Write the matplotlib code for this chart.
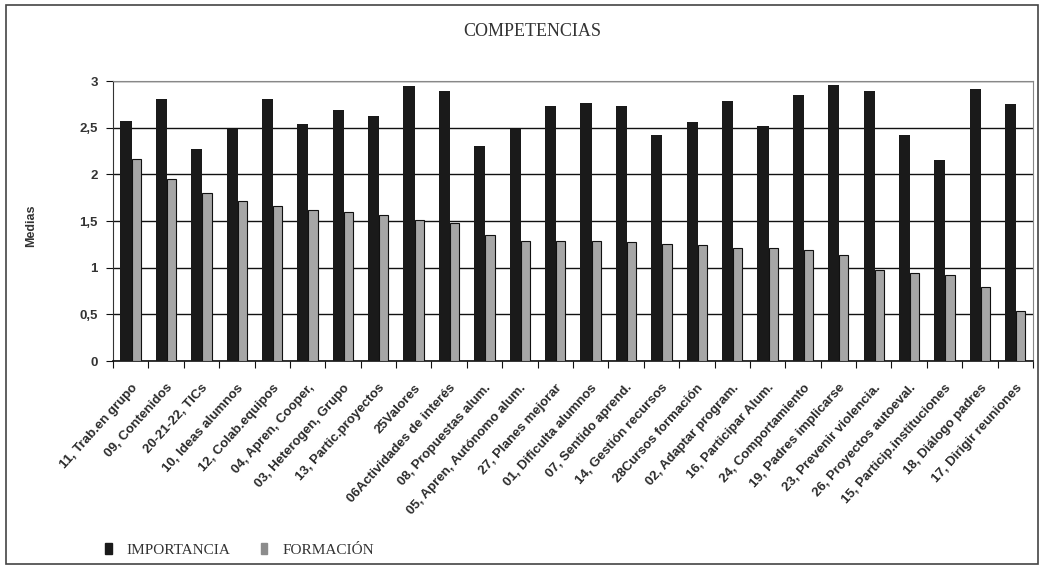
import numpy as np
import matplotlib.pyplot as plt
from matplotlib.patches import Patch, Rectangle

categorias = [
    '11, Trab.en grupo', '09, Contenidos', '20-21-22, TICs', '10, Ideas alumnos',
    '12, Colab.equipos', '04, Apren, Cooper,', '03, Heterogen, Grupo', '13, Partic.proyectos',
    '25Valores', '06Actividades de interés', '08, Propuestas alum.', '05, Apren, Autónomo alum.',
    '27, Planes mejorar', '01, Dificulta alumnos', '07, Sentido aprend.', '14, Gestión recursos',
    '28Cursos formación', '02, Adaptar program.', '16, Participar Alum.', '24, Comportamiento',
    '19, Padres implicarse', '23, Prevenir violencia.', '26, Proyectos autoeval.',
    '15, Particip.instituciones', '18, Diálogo padres', '17, Dirigir reuniones',
]
importancia = [2.57, 2.81, 2.27, 2.49, 2.81, 2.54, 2.69, 2.63, 2.95, 2.89, 2.30, 2.49, 2.73,
               2.77, 2.73, 2.42, 2.56, 2.79, 2.52, 2.85, 2.96, 2.89, 2.42, 2.15, 2.92, 2.75]
formacion = [2.17, 1.95, 1.80, 1.72, 1.66, 1.62, 1.60, 1.57, 1.51, 1.48, 1.35, 1.29, 1.29,
             1.29, 1.27, 1.25, 1.24, 1.21, 1.21, 1.19, 1.14, 0.97, 0.94, 0.92, 0.79, 0.54]
yticks = [0, 0.5, 1, 1.5, 2, 2.5, 3]
ytick_labels = ['0', '0,5', '1', '1,5', '2', '2,5', '3']

fig = plt.figure(figsize=(10.42, 5.79), dpi=100)
ax = fig.add_axes([0.1084, 0.3765, 0.8830, 0.4835])

x = np.arange(len(categorias))
ax.bar(x - 0.29, importancia, width=0.315, align='edge', color='#1a1a1a', zorder=3)
ax.bar(x + 0.025, formacion, width=0.26, align='edge', color='#a6a6a6',
       edgecolor='#111111', linewidth=0.8, zorder=3)

ax.set_xlim(-0.5, len(categorias) - 0.5)
ax.set_ylim(0, 3)
ax.set_yticks(yticks)
ax.set_yticklabels(ytick_labels, fontsize=9.5, fontweight='bold', color='#333333',
                   family='Liberation Sans')
ax.yaxis.grid(True, color='#111111', linewidth=1.0, zorder=1)

# ticks between categories, labels at the centres
ax.set_xticks(np.arange(len(categorias) + 1) - 0.5)
ax.set_xticklabels([])
ax.set_xticks(x, minor=True)
ax.set_xticklabels(categorias, minor=True, rotation=48, ha='right', va='top',
                   rotation_mode='anchor', fontsize=9.5, fontweight='bold', color='#2a2a2a',
                   family='Liberation Sans')
ax.tick_params(axis='x', which='minor', length=0, pad=15)
ax.tick_params(axis='x', which='major', length=5, direction='out', color='#111111')
ax.tick_params(axis='y', length=5, direction='out', color='#111111', pad=6)

ax.spines['left'].set_color('#333333')
ax.spines['bottom'].set_color('#111111')
ax.spines['bottom'].set_linewidth(1.2)
ax.spines['top'].set_color('#888888')
ax.spines['right'].set_color('#888888')

fig.text(0.030, 0.61, 'Medias', rotation=90, ha='center', va='center', fontsize=9,
         fontweight='bold', color='#333333', family='Liberation Sans')
fig.text(0.511, 0.945, 'COMPETENCIAS', ha='center', va='center', fontsize=13,
         color='#333333', family='Liberation Serif')

handles = [Patch(facecolor='#1a1a1a', edgecolor='#1a1a1a'),
           Patch(facecolor='#8c8c8c', edgecolor='#8c8c8c')]
leg = fig.legend(handles, ['IMPORTANCIA', 'FORMACIÓN'], loc='center left',
                 bbox_to_anchor=(0.088, 0.05), ncol=2, frameon=False,
                 handlelength=0.4, handleheight=0.75, handletextpad=1.0,
                 columnspacing=2.0, prop={'family': 'Liberation Serif', 'size': 11})
for t in leg.get_texts():
    t.set_color('#333333')

fig.patches.append(Rectangle((0.006, 0.026), 0.99, 0.965, transform=fig.transFigure,
                             fill=False, edgecolor='#444444', linewidth=1.2))

fig.savefig('out.png', dpi=100)
